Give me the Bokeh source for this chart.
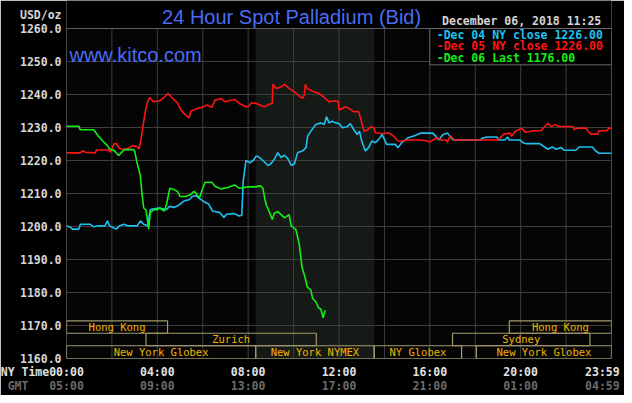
from bokeh.plotting import figure
from bokeh.models import Label, FixedTicker, LinearAxis, BoxAnnotation, ColumnDataSource
from bokeh.core.properties import value
from bokeh.embed import file_html
from bokeh.resources import INLINE

# ---------------- data (hours in NY time, USD/oz) ----------------
dec04_hours = [0, 0.19, 0.26, 0.54, 0.61, 1.04, 1.19, 1.4, 1.69, 1.8, 1.9, 2.04, 2.19, 2.33, 2.54, 2.69,
               3.11, 3.26, 3.4, 3.57, 3.69, 3.83, 4.1, 4.4, 4.54, 4.76, 4.97, 5.19, 5.4, 5.54, 5.69, 5.83,
               6.04, 6.26, 6.43, 6.76, 6.93, 7.04, 7.4, 7.6, 7.72, 7.78, 7.9, 8.07, 8.22, 8.36, 8.5, 8.65,
               8.87, 9.0, 9.16, 9.3, 9.45, 9.6, 9.75, 9.9, 10.04, 10.18, 10.4, 10.55, 10.62, 10.76, 10.98,
               11.2, 11.35, 11.45, 11.56, 11.7, 11.85, 12.0, 12.15, 12.36, 12.5, 12.65, 12.8, 12.9, 13.0,
               13.16, 13.3, 13.45, 13.6, 13.75, 13.9, 14.0, 14.1, 14.47, 14.6, 14.76, 15.05, 15.35, 15.6,
               16.13, 16.27, 16.4, 16.57, 16.78, 16.93, 17.04, 18.23, 18.3, 18.5, 18.96, 19.03, 19.3,
               19.43, 19.5, 19.97, 20.1, 20.26, 20.84, 20.99, 21.2, 21.4, 21.55, 21.78, 21.93, 22.43,
               22.58, 23.16, 23.3, 23.45, 24.0]
dec04_values = [1200.2, 1199.7, 1199.2, 1199.2, 1200.7, 1200.7, 1199.9, 1200.2, 1200.2, 1201.7, 1200.2,
                1199.7, 1199.2, 1200.2, 1200.7, 1200.2, 1200.2, 1201.7, 1200.7, 1200.2, 1205.1, 1205.4,
                1205.6, 1205.1, 1206.1, 1205.8, 1206.6, 1207.8, 1208.1, 1209.1, 1209.4, 1208.6, 1207.6,
                1206.8, 1204.7, 1204.2, 1202.7, 1203.7, 1203.9, 1203.2, 1203.4, 1213.6, 1220.0, 1219.3,
                1220.0, 1221.4, 1220.9, 1220.0, 1218.5, 1219.0, 1220.5, 1222.4, 1220.9, 1221.6, 1220.5,
                1218.5, 1219.0, 1222.4, 1222.9, 1223.9, 1227.4, 1228.9, 1230.9, 1231.4, 1230.9, 1233.3,
                1231.4, 1231.9, 1231.4, 1231.2, 1229.9, 1230.2, 1231.2, 1229.4, 1227.9, 1228.9, 1225.9,
                1222.9, 1223.9, 1225.9, 1225.4, 1226.4, 1227.9, 1226.4, 1224.9, 1224.9, 1223.9, 1225.4,
                1226.9, 1227.6, 1228.3, 1228.3, 1227.3, 1226.2, 1227.8, 1228.3, 1226.9, 1226.2, 1226.2,
                1226.7, 1227.1, 1227.1, 1226.2, 1226.2, 1227.1, 1226.2, 1226.2, 1225.4, 1225.1, 1225.1,
                1224.4, 1223.4, 1224.1, 1223.4, 1223.9, 1223.1, 1223.1, 1224.1, 1224.1, 1222.9, 1222.2,
                1222.2]

dec05_hours = [0, 0.61, 0.71, 0.83, 1.26, 1.33, 1.83, 1.94, 2.09, 2.19, 2.29, 2.37, 2.69, 2.9, 3.11, 3.19,
               3.26, 3.37, 3.47, 3.57, 3.66, 3.83, 4.11, 4.33, 4.47, 4.69, 4.9, 5.04, 5.19, 5.4, 5.47, 5.61,
               5.76, 5.97, 6.19, 6.4, 6.54, 6.83, 6.97, 7.4, 7.61, 7.9, 8.0, 8.15, 8.36, 8.6, 8.73, 8.95,
               9.06, 9.09, 9.24, 9.45, 9.6, 9.82, 10.04, 10.25, 10.4, 10.47, 10.52, 10.6, 10.9, 11.13,
               11.35, 11.56, 11.85, 11.97, 12.0, 12.3, 12.5, 12.65, 12.87, 13.0, 13.1, 13.24, 13.4, 13.53,
               13.6, 13.9, 14.2, 14.4, 14.6, 14.76, 15.05, 15.6, 15.9, 16.0, 16.13, 16.35, 16.5, 16.72,
               16.78, 16.9, 17.07, 19.0, 19.1, 19.25, 19.54, 19.6, 19.75, 20.04, 20.2, 20.4, 20.55, 20.9,
               21.06, 21.2, 21.35, 21.5, 21.7, 22.3, 22.36, 22.5, 22.87, 23.0, 23.1, 23.4, 23.45, 23.8,
               23.88, 24.0]
dec05_values = [1222.3, 1222.3, 1223.0, 1222.5, 1222.3, 1223.2, 1223.2, 1222.5, 1225.0, 1225.2, 1224.0,
                1223.5, 1223.5, 1224.5, 1224.2, 1223.5, 1225.5, 1230.4, 1234.9, 1237.8, 1239.1, 1237.8,
                1238.1, 1239.3, 1240.3, 1238.8, 1237.3, 1235.3, 1234.1, 1232.9, 1234.9, 1235.3, 1235.8,
                1236.1, 1236.8, 1236.1, 1238.3, 1238.8, 1237.8, 1238.5, 1237.3, 1236.3, 1236.3, 1237.5,
                1237.3, 1236.5, 1236.3, 1237.1, 1237.3, 1243.1, 1241.8, 1242.3, 1243.1, 1241.8, 1240.8,
                1239.5, 1238.8, 1239.8, 1243.1, 1241.8, 1240.8, 1240.3, 1239.1, 1237.8, 1238.1, 1237.8,
                1235.3, 1236.3, 1235.5, 1234.8, 1234.8, 1231.4, 1228.9, 1229.2, 1230.2, 1229.9, 1228.4,
                1228.2, 1228.4, 1227.4, 1225.9, 1225.9, 1226.2, 1226.2, 1225.9, 1225.6, 1226.2, 1226.9,
                1226.2, 1226.2, 1225.6, 1227.6, 1226.2, 1226.2, 1226.9, 1228.0, 1228.3, 1227.3, 1228.8,
                1229.8, 1228.6, 1228.8, 1229.0, 1229.0, 1230.3, 1231.3, 1230.3, 1230.8, 1230.3, 1230.3,
                1229.3, 1229.8, 1229.8, 1228.6, 1228.0, 1228.0, 1229.0, 1229.0, 1229.8, 1229.8]

dec06_hours = [0, 0.55, 0.6, 1.2, 1.4, 1.6, 1.8, 1.9, 2.1, 2.3, 2.5, 2.6, 2.9, 3.0, 3.1, 3.25, 3.33, 3.4,
               3.5, 3.57, 3.62, 3.69, 3.85, 4.0, 4.1, 4.3, 4.4, 4.55, 4.75, 4.9, 5.0, 5.25, 5.45, 5.6, 5.7,
               5.85, 6.0, 6.1, 6.4, 6.55, 6.8, 7.1, 7.4, 7.6, 8.0, 8.3, 8.55, 8.65, 8.73, 8.8, 8.95, 9.06,
               9.16, 9.3, 9.45, 9.6, 9.8, 9.9, 10.1, 10.25, 10.37, 10.5, 10.6, 10.76, 10.84, 10.98, 11.1,
               11.2, 11.3, 11.39]
dec06_values = [1230.4, 1230.4, 1229.3, 1229.3, 1227.4, 1225.9, 1224.5, 1223.5, 1223.0, 1221.5, 1223.0,
                1223.3, 1223.3, 1223.0, 1219.5, 1215.5, 1209.6, 1205.6, 1205.0, 1201.7, 1199.2, 1204.2,
                1205.1, 1205.1, 1205.6, 1204.7, 1206.6, 1211.6, 1211.1, 1210.6, 1209.1, 1209.1, 1209.6,
                1210.6, 1210.1, 1208.6, 1211.6, 1213.4, 1213.4, 1212.1, 1211.4, 1211.8, 1212.6, 1211.6,
                1212.0, 1212.0, 1212.3, 1211.5, 1208.5, 1206.5, 1204.1, 1202.1, 1204.1, 1204.5, 1203.6,
                1202.6, 1203.6, 1200.1, 1199.1, 1194.6, 1187.7, 1184.7, 1181.7, 1180.7, 1178.2, 1177.2,
                1175.3, 1175.0, 1172.3, 1174.6]

legend_labels = ["-Dec 04 NY close 1226.00", "-Dec 05 NY close 1226.00", "-Dec 06 Last 1176.00"]
series_colors = ["#1ec0f0", "#ff1414", "#14ee14"]

y_min, y_max = 1160, 1260
y_ticks = [1160, 1170, 1180, 1190, 1200, 1210, 1220, 1230, 1240, 1250, 1260]
grid_hours = list(range(0, 25, 2))
x_tick_hours = [0, 4, 8, 12, 16, 20, 23.6]
NB = "\u00a0"
ny_tick_labels = ["NY Time00:00" + NB * 7, "04:00", "08:00", "12:00", "16:00", "20:00", "23:59"]
gmt_tick_labels = [NB + "GMT" + NB * 3 + "05:00" + NB * 7, "09:00", "13:00", "17:00", "21:00",
                   "01:00", "04:59"]
unit_label = "USD/oz"

# trading sessions: name, row, start hour, end hour
session_names = ["Hong Kong", "Hong Kong", "Zurich", "Sydney",
                 "New York Globex", "New York NYMEX", "NY Globex", "New York Globex"]
session_rows = [0, 0, 1, 1, 2, 2, 2, 2]
session_start = [0, 19.5, 3.5, 17.0, 0, 8.33, 13.55, 18.05]
session_end = [4.45, 24, 11.0, 23.05, 8.33, 13.55, 17.4, 24]
nymex_open, nymex_close = 8.33, 13.55

title_text = "24 Hour Spot Palladium (Bid)"
date_text = "December 06, 2018 11:25"

# ---------------- layout helpers (reference pixels -> data) ----------------
X0, PXH = 67.0, 23.0      # x pixel of 00:00, pixels per hour (reference)
Y0, PXU = 29.0, 3.36      # y pixel of 1260, pixels per USD (reference)


def hx(px):
    return (px - X0) / PXH


def vy(py):
    return 1260 - (py - Y0) / PXU


W, H = 624, 395
B_LEFT, B_RIGHT, B_BOTTOM = 66, 13, 37
CHART_PX = 330                      # pixel height of the 1160..1260 band
y_top = y_min + (H - B_BOTTOM) / (CHART_PX / (y_max - y_min))

MONO = "DejaVu Sans Mono"
SANS = "Liberation Sans"
BLUE = "#4a6cf4"
GRID = "#3e3e3e"

p = figure(width=W, height=H, x_range=(0, 24), y_range=(y_min, y_top),
           output_backend="svg", toolbar_location=None, title=None,
           background_fill_color="#000000", border_fill_color="#000000",
           min_border_left=B_LEFT, min_border_right=B_RIGHT, min_border_top=0,
           min_border_bottom=B_BOTTOM)
p.outline_line_color = None

# chart background and NYMEX shaded region (beneath the grid)
p.add_layout(BoxAnnotation(left=0, right=24, bottom=y_min, top=y_max, fill_color="#050505",
                           fill_alpha=1.0, line_color=None, level="image"))
p.add_layout(BoxAnnotation(left=nymex_open, right=nymex_close, bottom=y_min, top=y_max,
                           fill_color="#161a16", fill_alpha=1.0, line_color=None, level="image"))

# grids: horizontal by the grid, vertical limited to the price band
p.xgrid.visible = False
p.ygrid.ticker = FixedTicker(ticks=y_ticks)
p.ygrid.grid_line_color = GRID
p.ygrid.grid_line_width = 1
p.segment(x0=grid_hours, x1=grid_hours, y0=[y_min] * len(grid_hours), y1=[y_max] * len(grid_hours),
          line_color=GRID, line_width=1)
p.quad(left=[0], right=[24], bottom=[y_min], top=[y_max], fill_alpha=0,
       line_color="#5e5e5e", line_width=1)

# y axis (unit label sits as the top-most tick label)
unit_pos = vy(15)
ya = p.yaxis[0]
ya.ticker = FixedTicker(ticks=y_ticks + [unit_pos])
overrides = {t: f"{t:.1f}" for t in y_ticks}
overrides[unit_pos] = unit_label
ya.major_label_overrides = overrides
ya.axis_line_color = None
ya.major_tick_line_color = None
ya.minor_tick_line_color = None
ya.major_tick_out = 0
ya.major_tick_in = 0
ya.major_label_standoff = 5
ya.major_label_text_font = MONO
ya.major_label_text_font_style = "bold"
ya.major_label_text_font_size = "11.5px"
ya.major_label_text_color = "#d6d6d6"


# x axes (NY time + GMT)
def style_x(ax, labels, color, standoff):
    ax.ticker = FixedTicker(ticks=x_tick_hours)
    ax.major_label_overrides = {t: l for t, l in zip(x_tick_hours, labels)}
    ax.axis_line_color = None
    ax.major_tick_line_color = None
    ax.minor_tick_line_color = None
    ax.major_tick_out = 0
    ax.major_tick_in = 0
    ax.major_label_standoff = standoff
    ax.major_label_text_font = MONO
    ax.major_label_text_font_style = "bold"
    ax.major_label_text_font_size = "11.5px"
    ax.major_label_text_color = color


style_x(p.xaxis[0], ny_tick_labels, "#e0e0e0", 6)
gmt_axis = LinearAxis()
style_x(gmt_axis, gmt_tick_labels, "#6a6a6a", -3)
p.add_layout(gmt_axis, "below")

# price lines
for hrs, vals, col in zip([dec04_hours, dec05_hours, dec06_hours],
                          [dec04_values, dec05_values, dec06_values], series_colors):
    p.line(hrs, vals, line_color=col, line_width=1.6)

# session boxes
row_edges = [(vy(339.3), vy(326.7)), (vy(352.0), vy(339.3)), (y_min, vy(352.0))]
sess = ColumnDataSource(dict(
    name=session_names,
    left=session_start, right=session_end,
    bottom=[row_edges[r][0] for r in session_rows],
    top=[row_edges[r][1] for r in session_rows],
    xc=[(a + b) / 2 for a, b in zip(session_start, session_end)],
    yc=[(row_edges[r][0] + row_edges[r][1]) / 2 for r in session_rows],
))
p.quad(left="left", right="right", bottom="bottom", top="top", source=sess,
       fill_alpha=0, line_color="#a29a6c", line_width=1.2)
p.text(x="xc", y="yc", text="name", source=sess, text_font=value(MONO),
       text_font_size="10.5px", text_color="#f0b400", text_align="center",
       text_baseline="middle")

# legend box
p.quad(left=[hx(435)], right=[24], bottom=[vy(66)], top=[y_max],
       fill_color="#000000", line_color="#6a6a6a", line_width=1)
leg = ColumnDataSource(dict(
    x=[hx(442)] * 3, y=[vy(35.5), vy(47.3), vy(59.0)],
    t=legend_labels, c=series_colors))
p.text(x="x", y="y", text="t", text_color="c", source=leg, text_font=value(MONO),
       text_font_style="bold", text_font_size="11.5px", text_baseline="middle")

# header texts and watermark (inside the frame, which reaches the top of the canvas)
p.add_layout(Label(x=hx(295), y=vy(17), text=title_text, text_font=SANS,
                   text_font_size="20px", text_color=BLUE, text_align="center",
                   text_baseline="middle"))
p.add_layout(Label(x=hx(528), y=vy(21), text=date_text, text_font=MONO,
                   text_font_style="bold", text_font_size="11.5px", text_color="#d4d4d4",
                   text_align="center", text_baseline="middle"))
p.add_layout(Label(x=hx(70), y=vy(56), text="www.kitco.com", text_font=SANS,
                   text_font_size="20px", text_color=BLUE, text_align="left",
                   text_baseline="middle"))

open("out.html", "w").write(file_html(p, INLINE))
